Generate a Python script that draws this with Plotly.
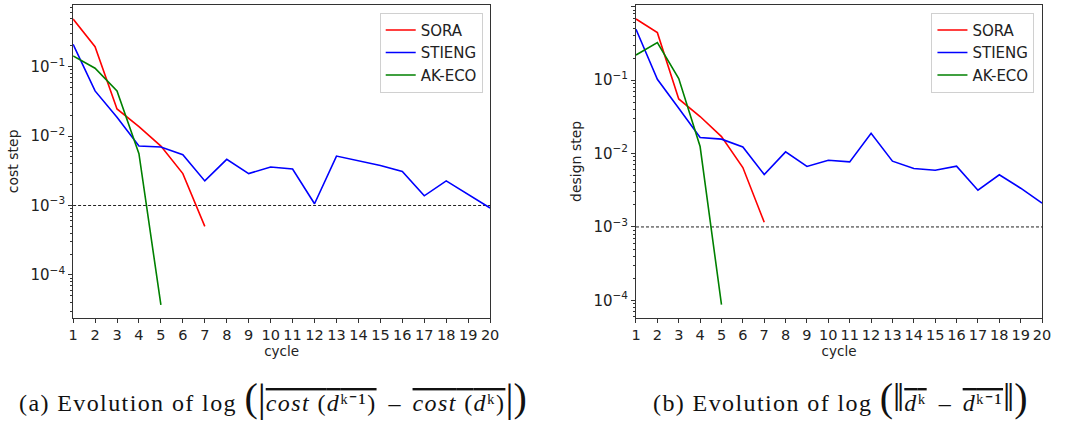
import plotly.graph_objects as go

cycles = list(range(1, 21))

# Left panel: cost step
cost_sora = [0.485, 0.194, 0.0246, 0.0137, 0.00717, 0.00288, 0.00050]
cost_stieng = [0.21, 0.0447, 0.0187, 0.0072, 0.00695, 0.0054, 0.00226, 0.00462, 0.00288, 0.00358,
               0.00335, 0.00106, 0.00515, 0.0044, 0.00377, 0.0031, 0.00138, 0.00226, 0.00143, 0.00092]
cost_akeco = [0.1426, 0.0948, 0.0447, 0.00558, 0.000037]

# Right panel: design step
des_sora = [0.68, 0.443, 0.0554, 0.0319, 0.0170, 0.00645, 0.00116]
des_stieng = [0.492, 0.1026, 0.0414, 0.0165, 0.0157, 0.0123, 0.00518, 0.01054, 0.00666, 0.0081,
              0.0077, 0.0189, 0.00787, 0.00625, 0.00593, 0.00673, 0.00317, 0.00513, 0.00337, 0.00211]
des_akeco = [0.22, 0.324, 0.105, 0.01245, 0.0000873]

threshold = 1e-3
series_names = ["SORA", "STIENG", "AK-ECO"]
series_colors = ["#ff0000", "#0000ff", "#008000"]

BIG = "<span style='font-size:40px;letter-spacing:0px'>%s</span>"
OL = "<span style='text-decoration:overline;letter-spacing:1.4px'>%s</span>"
LS = "<span style='letter-spacing:1.4px'>%s</span>"
MINUS = "<span style='letter-spacing:0px'>&nbsp; – &nbsp;</span>"
captions = [
    LS % "(a) Evolution of log " + BIG % "(" + BIG % "|"
    + OL % "<i>cost</i> (<i>d</i>ᵏ⁻¹)" + MINUS + OL % "<i>cost</i> (<i>d</i>ᵏ)"
    + BIG % "|" + BIG % ")",
    LS % "(b) Evolution of log " + BIG % "(" + BIG % "‖"
    + OL % "<i>d</i>ᵏ" + MINUS + OL % "<i>d</i>ᵏ⁻¹"
    + BIG % "‖" + BIG % ")",
]

W, H = 1078, 425
fig = go.Figure()

left = [cost_sora, cost_stieng, cost_akeco]
right = [des_sora, des_stieng, des_akeco]
for name, col, ys in zip(series_names, series_colors, left):
    fig.add_trace(go.Scatter(x=cycles[:len(ys)], y=ys, mode="lines", name=name,
                             line=dict(color=col, width=1.6), xaxis="x", yaxis="y",
                             legend="legend"))
for name, col, ys in zip(series_names, series_colors, right):
    fig.add_trace(go.Scatter(x=cycles[:len(ys)], y=ys, mode="lines", name=name,
                             line=dict(color=col, width=1.6), xaxis="x2", yaxis="y2",
                             legend="legend2"))


def minor_vals(lo, hi):
    out = []
    for e in range(lo, hi):
        for m in range(2, 10):
            out.append(m * 10.0 ** e)
    return out


def xaxis(domain, anchor):
    return dict(domain=domain, anchor=anchor, range=[1, 20], tickmode="array",
                tickvals=cycles, ticktext=[str(c) for c in cycles],
                showline=True, linecolor="#333", linewidth=1, mirror=True,
                ticks="outside", ticklen=4, tickcolor="#333", showgrid=False, zeroline=False,
                tickfont=dict(family="DejaVu Sans", size=14.5, color="#222"),
                title=dict(text="cycle", font=dict(family="DejaVu Sans", size=13.5, color="#222"),
                           standoff=2))


def yaxis(domain, anchor, rng, title, majors):
    return dict(domain=domain, anchor=anchor, type="log", range=rng,
                tickmode="array", tickvals=[10.0 ** e for e in majors],
                ticktext=["10<sup>%s</sup>" % (str(e).replace("-", "−")) for e in majors],
                showline=True, linecolor="#333", linewidth=1, mirror=True,
                ticks="outside", ticklen=4, tickcolor="#333", showgrid=False, zeroline=False,
                tickfont=dict(family="DejaVu Sans", size=15, color="#222"),
                minor=dict(tickmode="array", tickvals=minor_vals(-5, 1), ticks="outside",
                           ticklen=2, tickcolor="#333", showgrid=False),
                title=dict(text=title, font=dict(family="DejaVu Sans", size=14, color="#222"),
                           standoff=8))


ydom = [1 - 318 / H, 1 - 4.7 / H]
legend_common = dict(y=1 - 12.7 / H, yanchor="top", bgcolor="white", bordercolor="#d0d0d0",
                     borderwidth=1, font=dict(family="DejaVu Sans", size=15, color="#222"),
                     tracegroupgap=0)
fig.update_layout(
    width=W, height=H, margin=dict(l=0, r=0, t=0, b=0),
    paper_bgcolor="white", plot_bgcolor="white",
    xaxis=xaxis([69 / W, 491.5 / W], "y"),
    yaxis=yaxis(ydom, "x", [-4.62, -0.108], "cost step", [-4, -3, -2, -1]),
    xaxis2=xaxis([639.3 / W, 1050.7 / W], "y2"),
    yaxis2=yaxis(ydom, "x2", [-4.24, 0.027], "design step", [-4, -3, -2, -1, 0]),
    legend=dict(x=484 / W, xanchor="right", **legend_common),
    legend2=dict(x=1043 / W, xanchor="right", **legend_common),
    showlegend=True,
)

for xr, yr in [("x domain", "y"), ("x2 domain", "y2")]:
    fig.add_shape(type="line", xref=xr, yref=yr, x0=0, x1=1, y0=threshold, y1=threshold,
                  line=dict(color="#222", width=1, dash="3px,2px"), layer="below")

for cap, cx in zip(captions, [272, 846]):
    fig.add_annotation(text=cap, xref="paper", yref="paper", x=cx / W, y=1 - 397 / H,
                       xanchor="center", yanchor="middle", showarrow=False,
                       font=dict(family="Liberation Serif", size=24, color="#111"))

fig.write_html("out.html")
